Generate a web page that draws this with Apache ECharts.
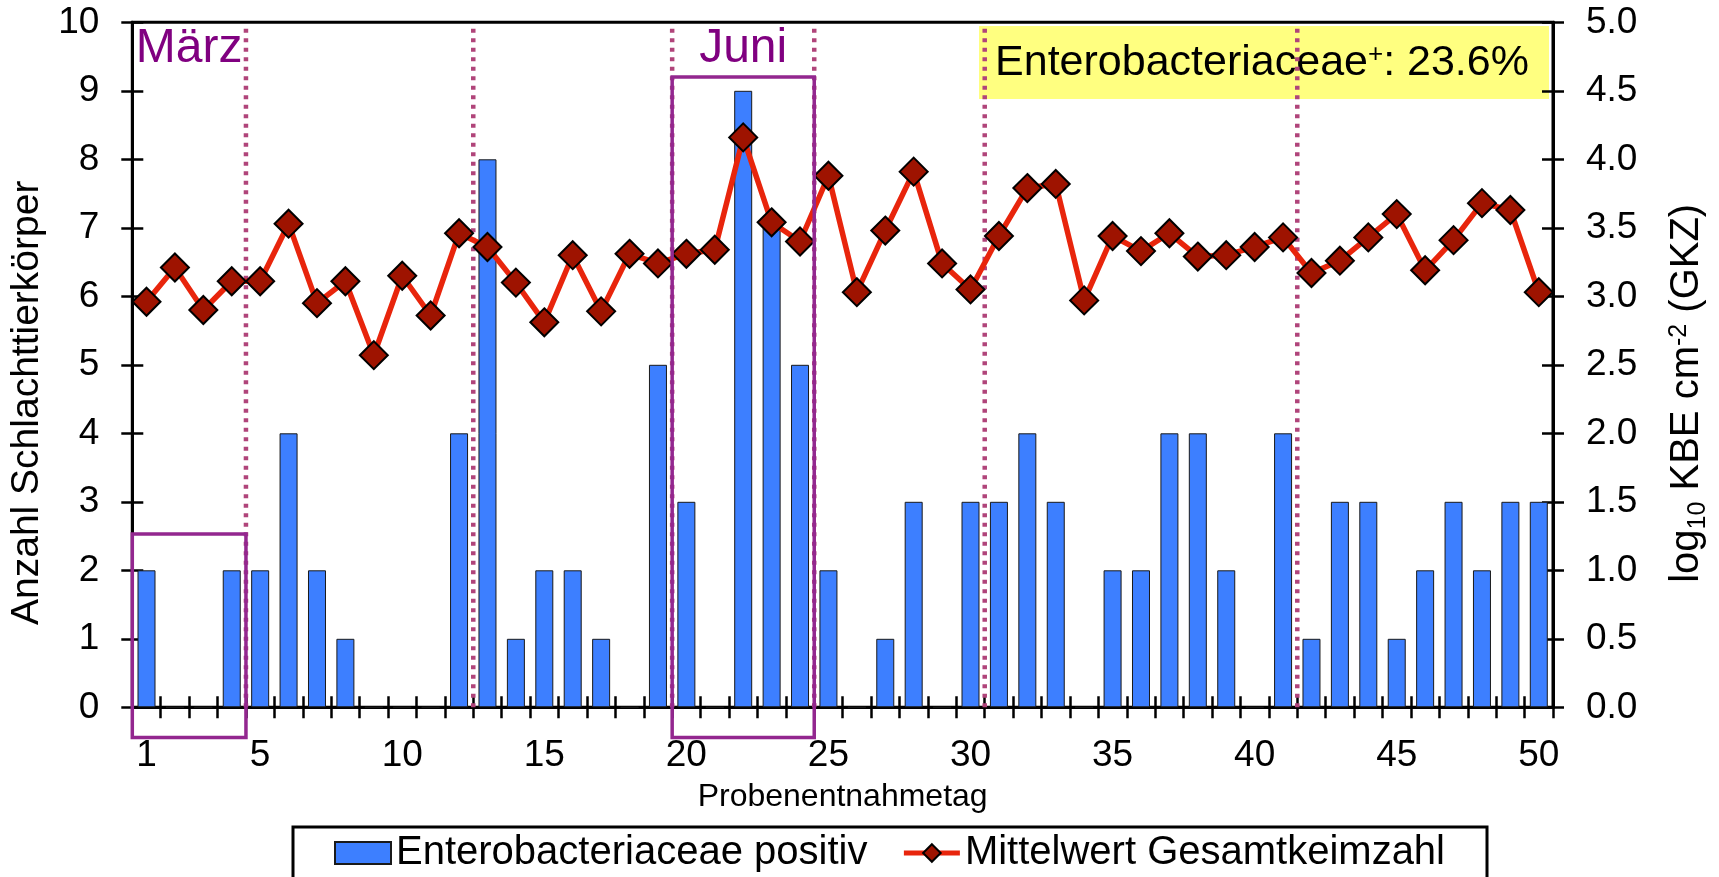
<!DOCTYPE html>
<html>
<head>
<meta charset="utf-8">
<script src="https://cdn.jsdelivr.net/npm/echarts@6/dist/echarts.min.js"></script>
<style>
  html, body { margin: 0; padding: 0; background: #fff; }
  #chart { width: 1719px; height: 877px; }
</style>
</head>
<body>
<div id="chart"></div>
<script>
// ---------- data ----------
const days = ['1','2','3','4','5','6','7','8','9','10','11','12','13','14','15','16','17','18','19','20',
  '21','22','23','24','25','26','27','28','29','30','31','32','33','34','35','36','37','38','39','40',
  '41','42','43','44','45','46','47','48','49','50'];
const enteroPositive = [2,0,0,2,2,4,2,1,0,0, 0,4,8,1,2,2,1,0,5,3, 0,9,7,5,2,0,1,3,0,3,
  3,4,3,0,2,2,4,4,2,0, 4,1,3,3,1,2,3,2,3,3];
const meanTotalCount = [2.96,3.21,2.90,3.11,3.11,3.53,2.95,3.11,2.57,3.15,
  2.86,3.46,3.36,3.10,2.81,3.30,2.89,3.31,3.24,3.31,
  3.34,4.16,3.54,3.40,3.88,3.03,3.48,3.91,3.24,3.05,
  3.44,3.79,3.82,2.97,3.44,3.33,3.46,3.29,3.30,3.36,
  3.43,3.17,3.26,3.43,3.60,3.19,3.41,3.68,3.63,3.03];
const monthBoundaryAfterDay = [4, 12, 19, 24, 30, 41];
const highlightMonths = ['März', 'Juni'];
const highlightFirstDay = [1, 20];
const highlightLastDay = [4, 24];
const enteroShareText = 'Enterobacteriaceae';
const enteroShareValue = ': 23.6%';

// ---------- layout / style (not data) ----------
const FONT = "'Liberation Sans', Arial, sans-serif";
const boxLayout = { bottom: -0.44, tops: [2.53, 9.2], labelY: 9.62 };

const boundaryData = monthBoundaryAfterDay.map(d => [d + 0.5, 0, 10]);
const boxData = highlightMonths.map((m, i) => [highlightFirstDay[i] - 0.5, highlightLastDay[i] + 0.5, boxLayout.bottom, boxLayout.tops[i]]);

const chart = echarts.init(document.getElementById('chart'), null, { renderer: 'canvas' });

const axisLineStyle = { color: '#000', width: 3 };
const tickStyle = { color: '#000', width: 2.5 };

const option = {
  animation: false,
  backgroundColor: '#fff',
  textStyle: { fontFamily: FONT, color: '#000' },
  grid: {
    left: 132.3, right: 162.3, top: 22.3, bottom: 169.7,
    show: true, borderColor: '#000', borderWidth: 3, backgroundColor: 'transparent'
  },
  legend: {
    left: 293, top: 827,
    padding: [6, 42, 30, 41],
    itemGap: 34, itemWidth: 56, itemHeight: 22,
    borderColor: '#000', borderWidth: 3,
    textStyle: { fontSize: 40, color: '#000', fontFamily: FONT },
    data: [
      { name: 'Enterobacteriaceae positiv', icon: 'rect' },
      { name: 'Mittelwert Gesamtkeimzahl', lineStyle: { width: 5, color: '#e8250c' } }
    ]
  },
  xAxis: [
    {
      type: 'category', data: days, position: 'bottom',
      boundaryGap: true,
      axisLine: { lineStyle: axisLineStyle },
      axisTick: { show: true, interval: 0, length: 11, lineStyle: tickStyle },
      axisLabel: {
        interval: function (idx) { return idx === 0 || (idx + 1) % 5 === 0; },
        fontSize: 37, color: '#000', margin: 30, fontFamily: FONT
      },
      name: 'Probenentnahmetag', nameLocation: 'middle', nameGap: 74,
      nameTextStyle: { fontSize: 32, color: '#000', fontFamily: FONT },
      splitLine: { show: false }
    },
    {
      type: 'category', data: days, position: 'bottom',
      boundaryGap: true,
      axisLine: { show: false },
      axisTick: { show: true, inside: true, interval: 0, length: 11, lineStyle: tickStyle },
      axisLabel: { show: false },
      splitLine: { show: false }
    },
    {
      type: 'value', min: 0.5, max: 50.5, show: false, position: 'bottom',
      splitLine: { show: false }
    }
  ],
  yAxis: [
    {
      type: 'value', min: 0, max: 10, interval: 1, position: 'left',
      axisLine: { show: true, lineStyle: axisLineStyle },
      axisTick: { show: true, length: 11, lineStyle: tickStyle },
      axisLabel: { fontSize: 37, color: '#000', margin: 33, fontFamily: FONT },
      splitLine: { show: false },
      name: 'Anzahl Schlachttierkörper', nameLocation: 'middle', nameGap: 85,
      nameTextStyle: { fontSize: 39, color: '#000', fontFamily: FONT, padding: [0, 76, 0, 0] }
    },
    {
      type: 'value', min: 0, max: 5, interval: 0.5, position: 'right',
      axisLine: { show: true, lineStyle: axisLineStyle },
      axisTick: { show: true, length: 11, lineStyle: tickStyle },
      axisLabel: {
        fontSize: 37, color: '#000', margin: 33, fontFamily: FONT,
        formatter: function (v) { return v.toFixed(1); }
      },
      splitLine: { show: false },
      name: '{a|log}{sub|10}{a| KBE cm}{sup|-2}{a| (GKZ)}',
      nameLocation: 'middle', nameGap: 114,
      nameTextStyle: {
        fontSize: 40, color: '#000', fontFamily: FONT, padding: [0, 57, 0, 0],
        rich: {
          a: { fontSize: 40, fontFamily: FONT, color: '#000' },
          sub: { fontSize: 25, fontFamily: FONT, color: '#000', verticalAlign: 'bottom', padding: [0, 0, -4, 0] },
          sup: { fontSize: 25, fontFamily: FONT, color: '#000', verticalAlign: 'top' }
        }
      }
    },
    {
      type: 'value', min: 0, max: 10, interval: 1, position: 'left',
      axisLine: { show: false },
      axisTick: { show: true, inside: true, length: 11, lineStyle: tickStyle },
      axisLabel: { show: false },
      splitLine: { show: false }
    },
    {
      type: 'value', min: 0, max: 5, interval: 0.5, position: 'right',
      axisLine: { show: false },
      axisTick: { show: true, inside: true, length: 11, lineStyle: tickStyle },
      axisLabel: { show: false },
      splitLine: { show: false }
    }
  ],
  series: [
    {
      name: 'monthBoundaries',
      type: 'custom',
      xAxisIndex: 2, yAxisIndex: 0,
      clip: false, z: 1, silent: true,
      encode: { x: 0, y: [1, 2] },
      data: boundaryData,
      renderItem: function (params, api) {
        const p0 = api.coord([api.value(0), api.value(1)]);
        const p1 = api.coord([api.value(0), api.value(2)]);
        return {
          type: 'line',
          shape: { x1: p0[0], y1: p0[1], x2: p1[0], y2: p1[1] + 2 },
          style: { stroke: '#b0447a', lineWidth: 4.5, lineDash: [4, 5.5], lineCap: 'butt' }
        };
      }
    },
    {
      name: 'Enterobacteriaceae positiv',
      type: 'bar',
      xAxisIndex: 0, yAxisIndex: 0,
      data: enteroPositive,
      barWidth: 18,
      z: 2,
      itemStyle: { color: '#3d7fff', borderColor: '#1a1a1a', borderWidth: 1 }
    },
    {
      name: 'Mittelwert Gesamtkeimzahl',
      type: 'line',
      xAxisIndex: 0, yAxisIndex: 1,
      data: meanTotalCount,
      z: 4,
      showSymbol: true, showAllSymbol: true,
      symbol: 'diamond', symbolSize: 28,
      lineStyle: { color: '#e8250c', width: 5.5 },
      itemStyle: { color: '#9e1300', borderColor: '#000', borderWidth: 2 }
    },
    {
      name: 'monthBoxes',
      type: 'custom',
      xAxisIndex: 2, yAxisIndex: 0,
      clip: false, z: 6, silent: true,
      encode: { x: [0, 1], y: [2, 3] },
      data: boxData,
      renderItem: function (params, api) {
        const i = params.dataIndex;
        const tl = api.coord([api.value(0), api.value(3)]);
        const br = api.coord([api.value(1), api.value(2)]);
        const lab = api.coord([(api.value(0) + api.value(1)) / 2, boxLayout.labelY]);
        return {
          type: 'group',
          children: [
            {
              type: 'rect',
              shape: { x: tl[0], y: tl[1], width: br[0] - tl[0], height: br[1] - tl[1] },
              style: { fill: 'none', stroke: '#93278f', lineWidth: 3.5 }
            },
            {
              type: 'text',
              x: lab[0], y: lab[1],
              style: {
                text: highlightMonths[i],
                fill: '#800080',
                fontSize: 48, fontFamily: FONT,
                align: 'center', verticalAlign: 'middle'
              }
            }
          ]
        };
      }
    }
  ],
  graphic: [
    {
      type: 'group',
      left: 979, top: 26,
      children: [
        { type: 'rect', shape: { x: 0, y: 0, width: 570, height: 73 }, style: { fill: '#ffff80' } },
        {
          type: 'text', x: 283, y: 37,
          style: {
            text: '{a|' + enteroShareText + '}{s|+}{a|' + enteroShareValue + '}',
            align: 'center', verticalAlign: 'middle',
            rich: {
              a: { fontSize: 43, fontFamily: FONT, fill: '#000', color: '#000' },
              s: { fontSize: 26, fontFamily: FONT, fill: '#000', color: '#000', verticalAlign: 'top' }
            }
          }
        }
      ]
    }
  ]
};

chart.setOption(option);
</script>
</body>
</html>
